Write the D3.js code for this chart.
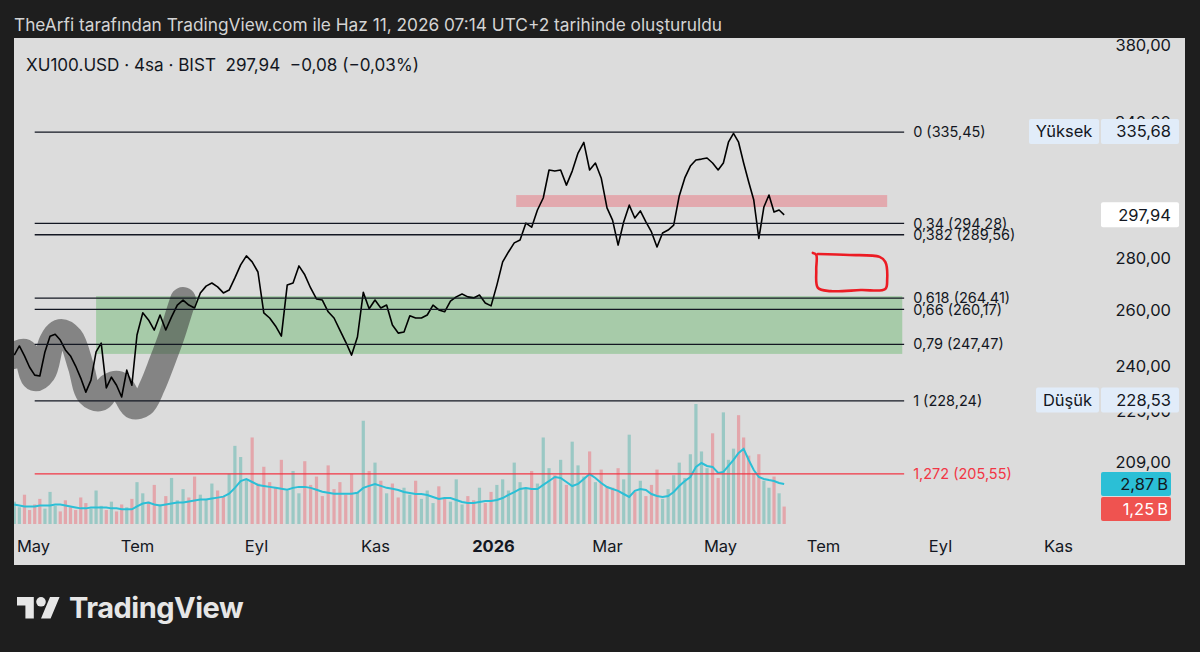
<!DOCTYPE html>
<html>
<head>
<meta charset="utf-8">
<script src="https://cdn.jsdelivr.net/npm/d3@7"></script>
<style>
body { margin: 0; background: #1e1e1e; }
svg { display: block; font-family: Inter, "Noto Sans", sans-serif; }
</style>
</head>
<body>
<svg id="chart" width="1200" height="652"></svg>
<script>
// ---- data ----
var START_DATE = '2025-04-20'; // first 3-day sample
var STEP_DAYS = 3;

var closes = [
	243.7, 246.9, 243.4, 239.5, 236.8, 236.5, 244.8, 250.4, 251.1, 249.0,
	245.5, 243.4, 239.9, 235.8, 231.1, 235.1, 244.8, 247.9, 232.5, 236.1,
	233.4, 229.5, 238.5, 233.4, 250.8, 258.9, 256.3, 252.6, 258.1, 252.6,
	257.4, 261.8, 263.7, 261.8, 260.7, 266.4, 269.0, 270.2, 268.7, 266.4,
	267.5, 272.2, 277.3, 280.9, 278.5, 274.5, 258.9, 257.0, 254.1, 250.4,
	269.4, 270.2, 276.9, 273.4, 268.3, 264.1, 263.7, 259.3, 257.0, 252.6,
	248.3, 243.7, 250.1, 266.6, 260.4, 263.7, 260.7, 261.8, 254.4, 251.5,
	251.9, 257.8, 257.0, 257.0, 258.1, 261.8, 260.0, 259.3, 263.3, 264.9,
	266.0, 264.9, 264.5, 265.6, 262.6, 261.5, 269.4, 278.5, 282.5, 286.2,
	287.4, 294.4, 292.7, 300.0, 305.2, 317.7, 317.2, 317.7, 310.9, 317.2,
	325.5, 330.5, 317.7, 320.9, 314.1, 300.9, 295.7, 285.3, 294.9, 302.1,
	296.6, 299.6, 294.9, 290.7, 284.5, 290.3, 291.5, 293.6, 306.1, 314.1,
	319.5, 322.3, 322.7, 323.2, 320.9, 317.7, 320.9, 330.6, 334.8, 330.6,
	320.9, 312.3, 304.3, 288.0, 301.3, 306.5, 299.1, 300.0, 297.94
];

// volume in billions, same dates
var volumes = [
	1.6, 1.2, 2.1, 1.0, 1.4, 1.8, 1.1, 2.3, 1.3, 0.9, 1.7, 1.2, 1.0, 1.9, 1.5, 1.1, 2.4, 1.3, 1.0, 1.6, 0.9, 1.4, 1.2, 1.8,
	3.0, 2.2, 1.6, 2.8, 1.4, 2.0, 3.3, 1.7, 2.5, 1.9, 3.4, 2.1, 1.8, 2.9, 2.4, 2.0, 3.6,
	5.6, 4.8, 3.2, 6.2, 2.9, 4.1, 3.0, 2.6, 4.6,
	2.4, 3.8, 2.2, 4.5, 2.8, 3.4, 2.0, 4.2, 2.5, 3.0, 2.1, 3.6, 2.3,
	7.4, 3.8, 4.4, 3.1, 2.2, 2.9, 1.9, 2.6,
	2.1, 3.1, 1.8, 2.4, 1.5, 2.7, 1.9, 1.6, 3.2, 1.4, 2.0, 1.7, 2.6, 1.5, 2.3, 2.8,
	3.2, 2.4, 4.4, 3.0, 2.6, 3.8, 2.9, 6.2, 4.0, 3.5, 4.6, 2.8, 5.9, 4.2, 3.4, 5.2, 3.0, 3.9, 2.7,
	2.6, 4.0, 3.2, 6.4, 2.3, 3.1, 2.0, 2.8, 3.9, 1.8, 2.5, 3.5, 4.4, 3.3, 5.0,
	8.6, 5.2, 4.0, 6.5, 3.3, 8.0, 4.6, 5.4, 7.8, 6.2, 4.9, 3.6, 5.0, 3.1, 2.6, 3.4, 2.2, 1.25
];

var volumeMA = [
	1.40, 1.33, 1.26, 1.26, 1.26, 1.33, 1.33, 1.33, 1.40, 1.40,
	1.33, 1.26, 1.19, 1.12, 1.12, 1.19, 1.19, 1.19, 1.19, 1.12,
	1.12, 1.05, 1.05, 1.05, 1.26, 1.47, 1.54, 1.40, 1.33, 1.40,
	1.47, 1.54, 1.54, 1.61, 1.68, 1.75, 1.75, 1.82, 1.89, 1.96,
	2.17, 2.59, 3.08, 3.22, 3.01, 2.80, 2.73, 2.66, 2.59, 2.52,
	2.45, 2.59, 2.66, 2.66, 2.59, 2.45, 2.31, 2.24, 2.17, 2.17,
	2.17, 2.17, 2.24, 2.59, 2.73, 2.87, 2.73, 2.59, 2.52, 2.44,
	2.29, 2.22, 2.15, 2.15, 2.08, 1.94, 1.79, 1.86, 1.86, 1.72,
	1.58, 1.51, 1.51, 1.58, 1.65, 1.65, 1.72, 1.86, 2.08, 2.29,
	2.51, 2.58, 2.51, 2.51, 2.80, 3.08, 3.37, 3.30, 3.01, 2.72,
	2.87, 3.23, 3.58, 3.30, 2.94, 2.65, 2.51, 2.37, 2.15, 1.94,
	2.37, 2.51, 2.44, 2.15, 2.01, 1.94, 2.01, 2.29, 2.72, 3.08,
	3.37, 4.09, 4.37, 4.16, 4.09, 3.66, 3.73, 4.16, 4.59, 5.09,
	5.38, 4.59, 3.87, 3.37, 3.23, 3.15, 3.08, 2.94, 2.87
];

var monthTicks = ['2025-05-01', '2025-07-01', '2025-09-01', '2025-11-01', '2026-01-01',
	'2026-03-01', '2026-05-01', '2026-07-01', '2026-09-01', '2026-11-01'];
var monthLabels = ['May', 'Tem', 'Eyl', 'Kas', '2026', 'Mar', 'May', 'Tem', 'Eyl', 'Kas'];
var priceTicks = [380, 340, 300, 280, 260, 240, 225, 209];

// fibonacci retracement (log)
var fibRatios = ['0', '0,34', '0,382', '0,618', '0,66', '0,79', '1', '1,272'];
var fibValues = [335.45, 294.28, 289.56, 264.41, 260.17, 247.47, 228.24, 205.55];
var fibDates = ['2025-05-02', '2026-08-13'];

var supportDates = ['2025-06-07', '2026-08-12'];
var supportPrices = [244.1, 265.2];
var resistDates = ['2026-01-13', '2026-08-04'];
var resistPrices = [301.3, 306.5];

// hand drawings
var brushDates = ['2025-04-20', '2025-04-26', '2025-05-02', '2025-05-07', '2025-05-12', '2025-05-17',
	'2025-05-23', '2025-05-29', '2025-06-03', '2025-06-09', '2025-06-15', '2025-06-20', '2025-06-25',
	'2025-06-29', '2025-07-04', '2025-07-09', '2025-07-14', '2025-07-19', '2025-07-23', '2025-07-25'];
var brushPrices = [243.4, 244.8, 235.8, 237.8, 248.3, 251.9, 249.7, 239.9, 230.5, 229.1, 233.1,
	233.8, 229.8, 226.5, 227.2, 233.1, 241.3, 250.4, 259.3, 263.7];
var boxDates = ['2026-06-25', '2026-06-27', '2026-06-27', '2026-06-28', '2026-07-05', '2026-07-21',
	'2026-08-03', '2026-08-04', '2026-08-03', '2026-07-31', '2026-07-15', '2026-06-28'];
var boxPrices = [282.1, 281.3, 275.3, 268.3, 267.1, 267.5, 267.9, 271.4, 278.5, 280.5, 281.3, 281.7];

var highValue = 335.68, lowValue = 228.53;
var priceChange = -0.08, priceChangePct = -0.03;

// ---- layout ----
var PANEL = { x: 14, y: 38, w: 1171, h: 527 };
var MONTH_PX = [33, 137, 256, 375, 493, 607, 720, 823, 940, 1058];
var AXIS_X = 1171;

var parseDate = d3.timeParse('%Y-%m-%d');
var start = parseDate(START_DATE);
var dates = closes.map(function (c, i) { return d3.timeDay.offset(start, i * STEP_DAYS); });

var locale = d3.formatLocale({ decimal: ',', thousands: '.', grouping: [3], currency: ['', ''], minus: '\u2212' });
var fmt = locale.format(',.2f');

var x = d3.scaleTime().domain(monthTicks.map(parseDate)).range(MONTH_PX);
var y = d3.scaleLog().domain([209, 380]).range([462.3, 45]);
var yVol = d3.scaleLinear().domain([0, 8.6]).range([524, 404]);

var svg = d3.select('#chart');
svg.append('rect').attr('width', 1200).attr('height', 652).attr('fill', '#1e1e1e');

// title
var title = svg.append('text')
	.attr('x', 14).attr('y', 25).attr('dy', '0.35em')
	.attr('font-size', 16).attr('fill', '#d4d4d4')
	.text('TheArfi tarafından TradingView.com ile Haz 11, 2026 07:14 UTC+2 tarihinde oluşturuldu');
fitWidth(title, 708);

svg.append('rect')
	.attr('x', PANEL.x).attr('y', PANEL.y).attr('width', PANEL.w).attr('height', PANEL.h)
	.attr('fill', '#dcdcdc');

svg.append('clipPath').attr('id', 'pane')
	.append('rect').attr('x', PANEL.x).attr('y', PANEL.y).attr('width', 1100 - PANEL.x).attr('height', 490);

var pane = svg.append('g').attr('clip-path', 'url(#pane)');

// zones
pane.append('rect')
	.attr('x', x(parseDate(supportDates[0])))
	.attr('width', x(parseDate(supportDates[1])) - x(parseDate(supportDates[0])))
	.attr('y', y(supportPrices[1]))
	.attr('height', y(supportPrices[0]) - y(supportPrices[1]))
	.attr('fill', 'rgba(76,175,80,0.36)');

pane.append('rect')
	.attr('x', x(parseDate(resistDates[0])))
	.attr('width', x(parseDate(resistDates[1])) - x(parseDate(resistDates[0])))
	.attr('y', y(resistPrices[1]))
	.attr('height', y(resistPrices[0]) - y(resistPrices[1]))
	.attr('fill', 'rgba(242,54,69,0.3)');

// volume
pane.selectAll('.vol')
	.data(volumes)
	.enter()
	.append('rect')
	.attr('class', 'vol')
	.attr('x', function (d, i) { return x(dates[i]) - 1.6; })
	.attr('width', 3.2)
	.attr('y', function (d) { return yVol(d); })
	.attr('height', function (d) { return yVol(0) - yVol(d); })
	.attr('fill', function (d, i) {
		var up = i === 0 || closes[i] >= closes[i - 1];
		return up ? 'rgba(38,166,154,0.36)' : 'rgba(242,54,69,0.32)';
	});

pane.append('path')
	.datum(volumeMA)
	.attr('fill', 'none')
	.attr('stroke', '#2bbfd6')
	.attr('stroke-width', 2)
	.attr('d', d3.line()
		.x(function (d, i) { return x(dates[i]); })
		.y(function (d) { return yVol(d); }));

// fib levels
var fibX0 = x(parseDate(fibDates[0])), fibX1 = x(parseDate(fibDates[1]));
fibValues.forEach(function (v, i) {
	var isExt = i === fibValues.length - 1;
	var col = isExt ? '#f23645' : '#131722';
	svg.append('line')
		.attr('x1', fibX0).attr('x2', fibX1)
		.attr('y1', y(v)).attr('y2', y(v))
		.attr('stroke', col).attr('stroke-width', 1.3);
	svg.append('text')
		.attr('x', fibX1 + 9).attr('y', y(v)).attr('dy', '0.35em')
		.attr('font-size', 14.5).attr('fill', col)
		.text(fibRatios[i] + ' (' + fmt(v) + ')');
});

// brush stroke
pane.append('path')
	.datum(brushPrices)
	.attr('fill', 'none')
	.attr('stroke', 'rgba(60,60,60,0.55)')
	.attr('stroke-width', 26)
	.attr('stroke-linecap', 'round')
	.attr('stroke-linejoin', 'round')
	.attr('d', d3.line()
		.curve(d3.curveCatmullRom)
		.x(function (d, i) { return x(parseDate(brushDates[i])); })
		.y(function (d) { return y(d); }));

// price
pane.append('path')
	.datum(closes)
	.attr('fill', 'none')
	.attr('stroke', '#000')
	.attr('stroke-width', 1.6)
	.attr('stroke-linejoin', 'round')
	.attr('d', d3.line()
		.x(function (d, i) { return x(dates[i]); })
		.y(function (d) { return y(d); }));

// red hand drawn box
pane.append('path')
	.datum(boxPrices)
	.attr('fill', 'none')
	.attr('stroke', '#ec1c24')
	.attr('stroke-width', 2.6)
	.attr('stroke-linecap', 'round')
	.attr('d', d3.line()
		.curve(d3.curveCatmullRom)
		.x(function (d, i) { return x(parseDate(boxDates[i])); })
		.y(function (d) { return y(d); }));

// legend
var legend = svg.append('text')
	.attr('x', 26).attr('y', 65).attr('dy', '0.35em')
	.attr('font-size', 15).attr('fill', '#131722')
	.style('white-space', 'pre')
	.text('XU100.USD \u00b7 4sa \u00b7 BIST  ' + fmt(closes[closes.length - 1]) + '  ' +
		fmt(priceChange) + ' (' + fmt(priceChangePct) + '%)');
fitWidth(legend, 393);

// price axis
var yAxis = svg.append('g')
	.attr('transform', 'translate(' + AXIS_X + ',0)')
	.call(d3.axisLeft(y).tickValues(priceTicks).tickFormat(fmt).tickSize(0).tickPadding(0));
yAxis.select('.domain').remove();
yAxis.selectAll('text')
	.attr('font-size', 16.5).attr('font-family', 'Inter, "Noto Sans", sans-serif').attr('fill', '#131722');

// time axis
var xAxis = svg.append('g')
	.attr('transform', 'translate(0,546)')
	.call(d3.axisBottom(x).tickValues(monthTicks.map(parseDate))
		.tickFormat(function (d, i) { return monthLabels[i]; })
		.tickSize(0).tickPadding(0));
xAxis.select('.domain').remove();
xAxis.selectAll('text')
	.attr('y', 0).attr('dy', '0.35em')
	.attr('font-size', 16.5).attr('font-family', 'Inter, "Noto Sans", sans-serif').attr('fill', '#131722')
	.attr('font-weight', function (d, i) { return monthLabels[i] === '2026' ? 700 : 400; });

// price scale labels
function priceTag(cy, value, fill, color, tag, tagX) {
	var g = svg.append('g');
	if (tag) {
		g.append('rect').attr('x', tagX).attr('y', cy - 12.5).attr('width', 1099 - tagX).attr('height', 25)
			.attr('rx', 2).attr('fill', fill);
		g.append('text').attr('x', (tagX + 1099) / 2).attr('y', cy).attr('dy', '0.35em')
			.attr('text-anchor', 'middle').attr('font-size', 16.5).attr('fill', color).text(tag);
	}
	g.append('rect').attr('x', 1101).attr('y', cy - 12.5).attr('width', 78).attr('height', 25)
		.attr('rx', 2).attr('fill', fill);
	g.append('text').attr('x', AXIS_X).attr('y', cy).attr('dy', '0.35em')
		.attr('text-anchor', 'end').attr('font-size', 16.5).attr('fill', color).text(value);
}
priceTag(y(highValue), fmt(highValue), '#e1ecf9', '#131722', 'Yüksek', 1029);
priceTag(y(lowValue), fmt(lowValue), '#e1ecf9', '#131722', 'Düşük', 1036);
priceTag(y(closes[closes.length - 1]), fmt(closes[closes.length - 1]), '#ffffff', '#131722');

function volTag(cy, v, fill, color) {
	svg.append('rect').attr('x', 1101).attr('y', cy - 12).attr('width', 70).attr('height', 24)
		.attr('rx', 2).attr('fill', fill);
	svg.append('text').attr('x', AXIS_X - 3).attr('y', cy).attr('dy', '0.35em')
		.attr('text-anchor', 'end').attr('font-size', 16.5).attr('fill', color)
		.text(fmt(v).replace(/0$/, '') + '\u2009B');
}
var maY = yVol(volumeMA[volumeMA.length - 1]);
var lastVolY = Math.max(yVol(volumes[volumes.length - 1]), maY + 25);
volTag(maY, volumeMA[volumeMA.length - 1], '#2bbfd6', '#131722');
volTag(lastVolY, volumes[volumes.length - 1], '#ef5350', '#ffffff');

// TradingView mark
var logo = svg.append('g').attr('transform', 'translate(17,592.2) scale(1.2)').attr('fill', '#e6e6e6');
logo.append('path').attr('d', 'M14 22H7V11H0V4h14v18zM28 22h-8l7.5-18h8L28 22z');
logo.append('circle').attr('cx', 20).attr('cy', 8).attr('r', 4);
var brand = svg.append('text')
	.attr('x', 69).attr('y', 618)
	.attr('font-size', 28).attr('font-weight', 700).attr('fill', '#e6e6e6')
	.attr('letter-spacing', -0.5)
	.text('TradingView');
fitWidth(brand, 174);

function fitWidth(sel, width) {
	var w = sel.node().getComputedTextLength();
	var fs = parseFloat(sel.attr('font-size'));
	sel.attr('font-size', (fs * width / w).toFixed(2));
}
</script>
</body>
</html>
